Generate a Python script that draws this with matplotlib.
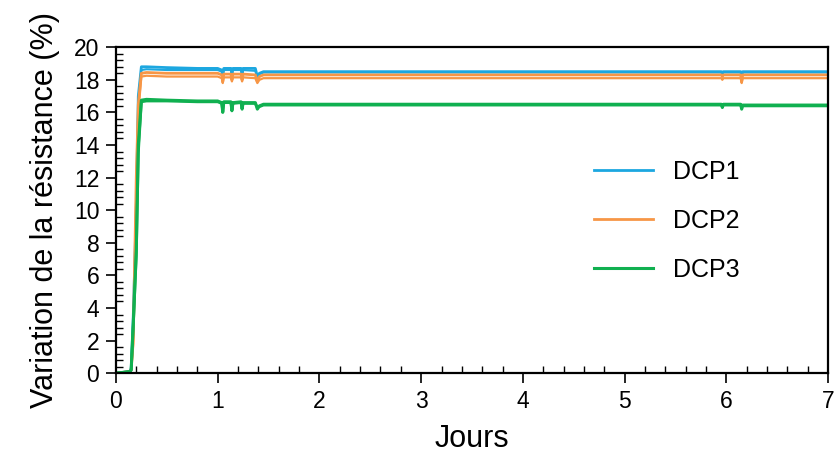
import matplotlib
matplotlib.use("Agg")
import matplotlib.pyplot as plt
from matplotlib.ticker import MultipleLocator

plt.rcParams['font.family'] = ['Liberation Sans', 'DejaVu Sans']

# shared time axis (days)
t = [0, 0.14, 0.15, 0.17, 0.20, 0.22, 0.25, 0.30, 0.50, 0.80, 1.00, 1.04, 1.05, 1.06,
     1.13, 1.14, 1.15, 1.23, 1.24, 1.25, 1.37, 1.39, 1.41, 1.45, 2.0, 3.0, 4.0, 5.0,
     5.95, 5.96, 5.97, 6.14, 6.15, 6.16, 7.0]

dcp1_a = [0, 0.1, 0.3, 3.4, 10.0, 17.0, 18.8, 18.8, 18.75, 18.7, 18.7, 18.6, 18.3, 18.7,
          18.7, 18.4, 18.7, 18.7, 18.3, 18.7, 18.7, 18.2, 18.4, 18.5, 18.5, 18.5, 18.5, 18.5,
          18.5, 18.4, 18.5, 18.5, 18.3, 18.5, 18.5]
dcp1_b = [0, 0.1, 0.3, 3.2, 9.5, 16.8, 18.6, 18.65, 18.6, 18.6, 18.6, 18.5, 18.2, 18.6,
          18.6, 18.3, 18.6, 18.6, 18.2, 18.6, 18.55, 18.1, 18.35, 18.45, 18.45, 18.45, 18.45, 18.45,
          18.45, 18.35, 18.45, 18.45, 18.25, 18.45, 18.45]
dcp2_a = [0, 0.1, 0.2, 2.0, 12.0, 16.5, 18.4, 18.45, 18.4, 18.4, 18.4, 18.3, 17.9, 18.35,
          18.35, 18.0, 18.35, 18.35, 18.0, 18.35, 18.3, 17.9, 18.2, 18.3, 18.3, 18.3, 18.3, 18.3,
          18.3, 18.2, 18.3, 18.3, 17.9, 18.3, 18.3]
dcp2_b = [0, 0.1, 0.2, 1.8, 11.0, 16.0, 18.2, 18.25, 18.2, 18.2, 18.2, 18.1, 17.8, 18.15,
          18.15, 17.9, 18.15, 18.15, 17.9, 18.15, 18.1, 17.8, 18.0, 18.1, 18.1, 18.1, 18.1, 18.1,
          18.1, 18.0, 18.1, 18.1, 17.8, 18.1, 18.1]
dcp3_a = [0, 0.1, 0.2, 3.0, 7.5, 14.0, 16.75, 16.8, 16.75, 16.7, 16.7, 16.6, 16.0, 16.65,
          16.65, 16.1, 16.6, 16.65, 16.2, 16.6, 16.6, 16.2, 16.4, 16.5, 16.5, 16.5, 16.5, 16.5,
          16.5, 16.3, 16.5, 16.5, 16.2, 16.45, 16.45]
dcp3_b = [0, 0.1, 0.2, 2.8, 7.2, 13.5, 16.65, 16.7, 16.7, 16.65, 16.65, 16.55, 16.1, 16.6,
          16.6, 16.2, 16.55, 16.6, 16.3, 16.55, 16.55, 16.3, 16.35, 16.45, 16.45, 16.45, 16.45, 16.45,
          16.45, 16.35, 16.45, 16.45, 16.3, 16.4, 16.4]

labels = ['DCP1', 'DCP2', 'DCP3']
colors = ['#1CA7E0', '#F79646', '#10B050']

fig = plt.figure(figsize=(8.34, 4.54), dpi=100)
ax = fig.add_axes([0.139, 0.178, 0.854, 0.718])

ax.plot(t, dcp1_a, color=colors[0], lw=2.0, label=labels[0])
ax.plot(t, dcp1_b, color=colors[0], lw=1.5)
ax.plot(t, dcp2_a, color=colors[1], lw=2.0, label=labels[1])
ax.plot(t, dcp2_b, color=colors[1], lw=1.6)
ax.plot(t, dcp3_a, color=colors[2], lw=2.2, label=labels[2])
ax.plot(t, dcp3_b, color=colors[2], lw=2.0)

ax.set_xlim(0, 7)
ax.set_ylim(0, 20)
ax.xaxis.set_major_locator(MultipleLocator(1))
ax.xaxis.set_minor_locator(MultipleLocator(0.2))
ax.yaxis.set_major_locator(MultipleLocator(2))
ax.yaxis.set_minor_locator(MultipleLocator(0.4))
ax.tick_params(which='major', direction='out', length=7, width=1.2, labelsize=16.5, pad=5)
ax.tick_params(which='minor', direction='in', length=5, width=1.0)
for s in ax.spines.values():
    s.set_linewidth(1.6)

ax.set_xlabel('Jours', fontsize=22, labelpad=8)
ax.set_ylabel('Variation de la résistance (%)', fontsize=22, labelpad=10)

ax.legend(loc='upper left', bbox_to_anchor=(0.639, 0.724), frameon=False, fontsize=18,
          handlelength=2.36, labelspacing=1.0, handletextpad=0.8)

fig.savefig('out.png', dpi=100)
